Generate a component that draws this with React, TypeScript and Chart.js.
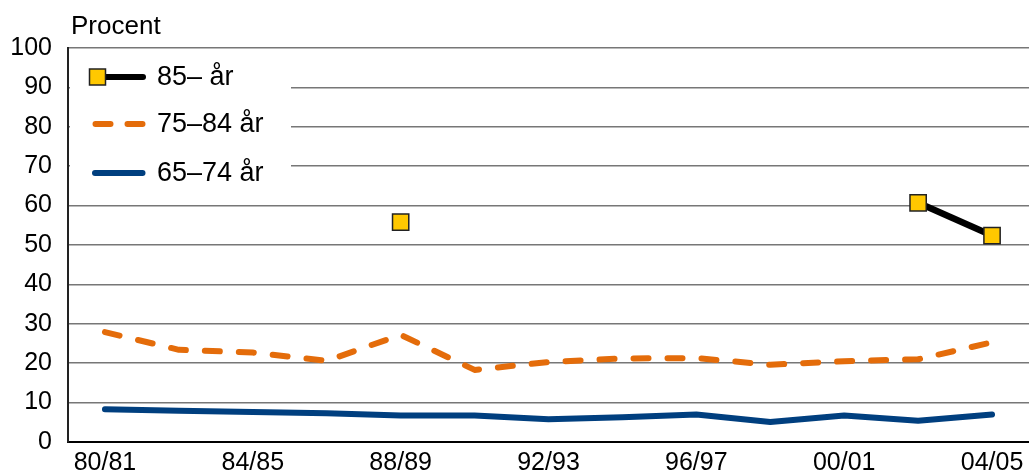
import React, { useEffect, useRef } from "react";
import { Chart, registerables } from "chart.js";

Chart.register(...registerables);

const categories = ["80/81", "82/83", "84/85", "86/87", "88/89", "90/91", "92/93", "94/95", "96/97", "98/99", "00/01", "02/03", "04/05"];
const age85plus: (number | null)[] = [null, null, null, null, 55.8, null, null, null, null, null, null, 60.7, 52.4];
const age75to84 = [27.9, 23.4, 22.7, 20.6, 27.2, 18.3, 20.3, 21.2, 21.3, 19.6, 20.5, 21.0, 25.3];
const age65to74 = [8.3, 7.9, 7.6, 7.3, 6.7, 6.7, 5.8, 6.3, 7.0, 5.1, 6.7, 5.4, 7.0];
const seriesNames = ["85– år", "75–84 år", "65–74 år"];
const yTicks = [0, 10, 20, 30, 40, 50, 60, 70, 80, 90, 100];
const yTitle = "Procent";

const FONT = "'Liberation Sans', Arial, sans-serif";
const C_BLACK = "#000000";
const C_ORANGE = "#E46C0A";
const C_BLUE = "#003F7F";
const C_YELLOW = "#FFC800";

export default function App() {
  const ref = useRef<HTMLCanvasElement | null>(null);

  useEffect(() => {
    document.body.style.margin = "0";
    const canvas = ref.current;
    if (!canvas) return;

    const overlay = {
      id: "overlay",
      beforeDatasetsDraw(chart: any) {
        const ctx = chart.ctx;
        ctx.save();
        ctx.fillStyle = "#ffffff";
        ctx.fillRect(70, 55, 221, 136);
        ctx.font = `27px ${FONT}`;
        ctx.textBaseline = "middle";
        ctx.textAlign = "left";
        const rows = [77, 124, 173];
        ctx.lineCap = "round";
        ctx.strokeStyle = C_BLACK;
        ctx.lineWidth = 6;
        ctx.beginPath();
        ctx.moveTo(100, rows[0]);
        ctx.lineTo(143, rows[0]);
        ctx.stroke();
        ctx.fillStyle = C_YELLOW;
        ctx.fillRect(89.5, rows[0] - 8, 16, 16);
        ctx.strokeStyle = "#222";
        ctx.lineWidth = 1.5;
        ctx.strokeRect(89.5, rows[0] - 8, 16, 16);
        ctx.strokeStyle = C_ORANGE;
        ctx.lineWidth = 6;
        ctx.setLineDash([15, 17]);
        ctx.beginPath();
        ctx.moveTo(95.5, rows[1]);
        ctx.lineTo(142.5, rows[1]);
        ctx.stroke();
        ctx.setLineDash([]);
        ctx.strokeStyle = C_BLUE;
        ctx.beginPath();
        ctx.moveTo(95, rows[2]);
        ctx.lineTo(142.5, rows[2]);
        ctx.stroke();
        ctx.fillStyle = "#000";
        seriesNames.forEach((n, i) => ctx.fillText(n, 157, rows[i] + 1));
        ctx.restore();
      },
      afterDraw(chart: any) {
        const ctx = chart.ctx;
        ctx.save();
        ctx.font = `26px ${FONT}`;
        ctx.fillStyle = "#000";
        ctx.textBaseline = "alphabetic";
        ctx.textAlign = "left";
        ctx.fillText(yTitle, 71, 34);
        const xs = chart.scales.x;
        ctx.font = `25px ${FONT}`;
        ctx.textAlign = "center";
        ctx.textBaseline = "alphabetic";
        categories.forEach((c, i) => {
          if (i % 2 !== 0) return;
          ctx.fillText(c, xs.getPixelForValue(i), xs.top + 28);
        });
        ctx.restore();
      },
    };

    const chart = new Chart(canvas, {
      type: "line",
      data: {
        labels: categories,
        datasets: [
          {
            label: seriesNames[0],
            data: age85plus,
            borderColor: C_BLACK,
            borderWidth: 6.5,
            pointStyle: "rect",
            pointRadius: 11.5,
            pointHoverRadius: 11.5,
            pointBackgroundColor: C_YELLOW,
            pointBorderColor: "#222",
            pointBorderWidth: 1.5,
            spanGaps: false,
            tension: 0,
          },
          {
            label: seriesNames[1],
            data: age75to84,
            borderColor: C_ORANGE,
            borderWidth: 6,
            borderDash: [15, 19],
            borderCapStyle: "round",
            borderJoinStyle: "round",
            pointRadius: 0,
            tension: 0,
          },
          {
            label: seriesNames[2],
            data: age65to74,
            borderColor: C_BLUE,
            borderWidth: 6,
            borderCapStyle: "round",
            borderJoinStyle: "round",
            pointRadius: 0,
            tension: 0,
          },
        ],
      },
      options: {
        animation: false,
        responsive: false,
        maintainAspectRatio: false,
        devicePixelRatio: 1,
        layout: { autoPadding: false, padding: { top: 48, right: 0, left: 0, bottom: 0 } },
        plugins: { legend: { display: false }, tooltip: { enabled: false } },
        scales: {
          x: {
            offset: true,
            grid: { display: false, drawTicks: false },
            border: { display: true, color: "#000", width: 2 },
            ticks: { display: false },
            afterFit: (s: any) => {
              s.height = 32;
            },
          },
          y: {
            min: 0,
            max: 100,
            afterBuildTicks: (s: any) => {
              s.ticks = yTicks.map((v) => ({ value: v }));
            },
            grid: { color: "#777", lineWidth: 1.5, drawTicks: false },
            border: { display: true, color: "#222", width: 2 },
            ticks: {
              padding: 16,
              color: "#000",
              font: { family: FONT, size: 25 },
            },
            afterFit: (s: any) => {
              s.width = 68;
            },
          },
        },
      },
      plugins: [overlay],
    });

    return () => chart.destroy();
  }, []);

  return (
    <div style={{ width: 1029, height: 474 }}>
      <canvas ref={ref} width={1029} height={474} style={{ display: "block", width: 1029, height: 474 }} />
    </div>
  );
}
